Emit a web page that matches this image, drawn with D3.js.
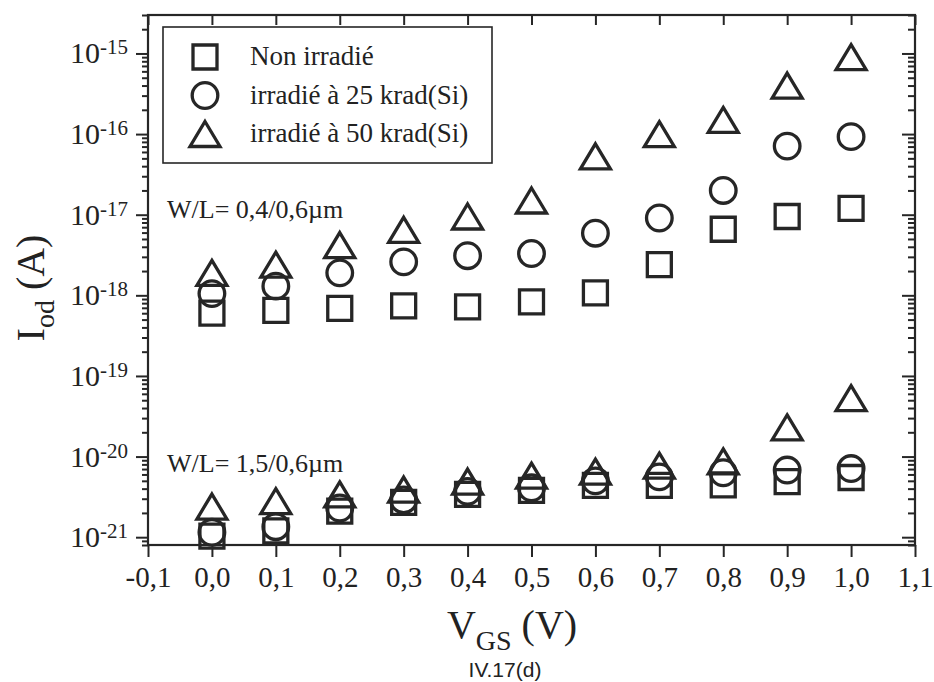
<!DOCTYPE html>
<html lang="fr">
<head>
<meta charset="UTF-8">
<title>Iod vs VGS</title>
<script src="https://d3js.org/d3.v7.min.js"></script>
<style>
  body { margin: 0; background: #fff; }
  svg { display: block; }
  .serif { font-family: "Liberation Serif", "Times New Roman", serif; fill: #222; }
</style>
</head>
<body>
<div id="chart"></div>
<script>
// V_GS values (V)
const vgs = [0.0, 0.1, 0.2, 0.3, 0.4, 0.5, 0.6, 0.7, 0.8, 0.9, 1.0];

// W/L = 0,4/0,6 um
const nonIrr04 = [6.0e-19, 6.5e-19, 6.9e-19, 7.4e-19, 7.2e-19, 8.3e-19, 1.07e-18, 2.4e-18, 6.6e-18, 9.5e-18, 1.2e-17];
const irr25_04 = [1.05e-18, 1.3e-18, 1.9e-18, 2.6e-18, 3.1e-18, 3.3e-18, 5.9e-18, 9.1e-18, 2.0e-17, 7.1e-17, 9.3e-17];
const irr50_04 = [1.9e-18, 2.4e-18, 4.2e-18, 6.5e-18, 9.5e-18, 1.5e-17, 5.3e-17, 1.0e-16, 1.5e-16, 4.0e-16, 9.0e-16];

// W/L = 1,5/0,6 um
const nonIrr15 = [1.03e-21, 1.2e-21, 2.1e-21, 2.7e-21, 3.4e-21, 3.8e-21, 4.4e-21, 4.4e-21, 4.45e-21, 4.9e-21, 5.5e-21];
const irr25_15 = [1.15e-21, 1.35e-21, 2.3e-21, 2.9e-21, 3.7e-21, 4.1e-21, 5.0e-21, 5.6e-21, 6.3e-21, 6.8e-21, 7.1e-21];
const irr50_15 = [2.4e-21, 2.8e-21, 3.4e-21, 3.9e-21, 4.9e-21, 5.8e-21, 6.5e-21, 7.7e-21, 8.7e-21, 2.3e-20, 5.3e-20];

const legendLabels = ["Non irradié", "irradié à 25 krad(Si)", "irradié à 50 krad(Si)"];
const shapes = ["square", "circle", "triangle"];
const xTicks = [-0.1, 0.0, 0.1, 0.2, 0.3, 0.4, 0.5, 0.6, 0.7, 0.8, 0.9, 1.0, 1.1];

const W = 934, H = 682;
const margin = { top: 15, right: 19, bottom: 137, left: 148 };
const width = W - margin.left - margin.right,
      height = H - margin.top - margin.bottom;
const ink = "#262626";

const svg = d3.select("#chart").append("svg")
    .attr("width", W).attr("height", H);
const g = svg.append("g").attr("transform", `translate(${margin.left},${margin.top})`);

const x = d3.scaleLinear().domain([-0.1, 1.1]).range([0, width]);
const y = d3.scaleLog().domain([8e-22, 3e-15]).range([height, 0]);

const fmtX = d => d.toFixed(1).replace(".", ",");
const isMajor = d => Math.abs(Math.log10(d) - Math.round(Math.log10(d))) < 1e-6;
const yAll = y.ticks();

// bottom axis (ticks outward)
const bottom = g.append("g").attr("transform", `translate(0,${height})`)
    .call(d3.axisBottom(x).tickValues(xTicks).tickFormat(fmtX).tickSize(12).tickPadding(9).tickSizeOuter(0));
bottom.selectAll("text").attr("class", "serif").style("font-size", "29px").attr("fill", "#222");

// top axis (ticks inward)
g.append("g")
    .call(d3.axisTop(x).tickValues(xTicks).tickFormat("").tickSize(-10).tickSizeOuter(0));

// left axis (ticks outward), minor ticks shorter
const left = g.append("g")
    .call(d3.axisLeft(y).tickValues(yAll).tickFormat("").tickSize(12).tickSizeOuter(0));
left.selectAll(".tick line").attr("x2", d => isMajor(d) ? -12 : -6);

// right axis (ticks inward)
const right = g.append("g").attr("transform", `translate(${width},0)`)
    .call(d3.axisRight(y).tickValues(yAll).tickFormat("").tickSize(-13).tickSizeOuter(0));
right.selectAll(".tick line").attr("x2", d => isMajor(d) ? -13 : -7);

g.selectAll(".domain").remove();
g.selectAll(".tick line").attr("stroke", ink).attr("stroke-width", 2);

// frame
g.append("rect").attr("width", width).attr("height", height)
    .attr("fill", "none").attr("stroke", ink).attr("stroke-width", 2.2);

// y tick labels 10^n
const yLab = g.append("g");
yAll.filter(isMajor).forEach(d => {
    const t = yLab.append("text").attr("class", "serif")
        .attr("x", -20).attr("y", y(d) + 10)
        .attr("text-anchor", "end").style("font-size", "30px");
    t.append("tspan").text("10");
    t.append("tspan").attr("dy", -9).style("font-size", "21px").text(Math.round(Math.log10(d)));
});

// marker paths
function markerPath(shape) {
    if (shape === "square") {
        const s = 12;
        return `M${-s},${-s}H${s}V${s}H${-s}Z`;
    }
    if (shape === "circle") {
        const r = 12.8;
        return `M${r},0A${r},${r} 0 1,1 ${-r},0A${r},${r} 0 1,1 ${r},0Z`;
    }
    const w = 15, h = 12.5;
    return `M0,${-h}L${w},${h}L${-w},${h}Z`;
}

const groups = [
    [nonIrr04, irr25_04, irr50_04],
    [nonIrr15, irr25_15, irr50_15]
];

const pts = [];
groups.forEach(grp => grp.forEach((vals, si) => {
    vals.forEach((v, i) => pts.push({ x: vgs[i], v: v, shape: shapes[si] }));
}));

g.append("g").selectAll("path")
    .data(pts)
    .join("path")
    .attr("transform", d => `translate(${x(d.x)},${y(d.v)})`)
    .attr("d", d => markerPath(d.shape))
    .attr("fill", "none")
    .attr("stroke", ink)
    .attr("stroke-width", 3.3)
    .attr("stroke-linejoin", "miter");

// annotations
svg.append("text").attr("class", "serif").attr("x", 167).attr("y", 218)
    .style("font-size", "26px").text("W/L= 0,4/0,6µm");
svg.append("text").attr("class", "serif").attr("x", 167).attr("y", 472)
    .style("font-size", "26px").text("W/L= 1,5/0,6µm");

// legend
const lg = svg.append("g");
lg.append("rect").attr("x", 163).attr("y", 27).attr("width", 329).attr("height", 136)
    .attr("fill", "#fff").attr("stroke", ink).attr("stroke-width", 1.6);
legendLabels.forEach((lab, i) => {
    const cy = 57 + i * 38.5;
    lg.append("path").attr("transform", `translate(205,${cy})`)
        .attr("d", markerPath(shapes[i]))
        .attr("fill", "none").attr("stroke", ink).attr("stroke-width", 3.3);
    lg.append("text").attr("class", "serif").attr("x", 250).attr("y", cy + 8)
        .style("font-size", "27px").text(lab);
});

// axis titles
const xt = svg.append("text").attr("class", "serif")
    .attr("x", 512).attr("y", 638).attr("text-anchor", "middle").style("font-size", "40px");
xt.append("tspan").text("V");
xt.append("tspan").attr("dy", 12).style("font-size", "28px").text("GS");
xt.append("tspan").attr("dy", -12).text(" (V)");

const yt = svg.append("text").attr("class", "serif")
    .attr("transform", "translate(44,288) rotate(-90)")
    .attr("text-anchor", "middle").style("font-size", "40px");
yt.append("tspan").text("I");
yt.append("tspan").attr("dy", 10).style("font-size", "28px").text("od");
yt.append("tspan").attr("dy", -10).text("  (A)");

svg.append("text").attr("x", 505).attr("y", 677).attr("text-anchor", "middle")
    .style("font-family", "'Liberation Sans', Arial, sans-serif")
    .style("font-size", "21px").attr("fill", "#222").text("IV.17(d)");
</script>
</body>
</html>
